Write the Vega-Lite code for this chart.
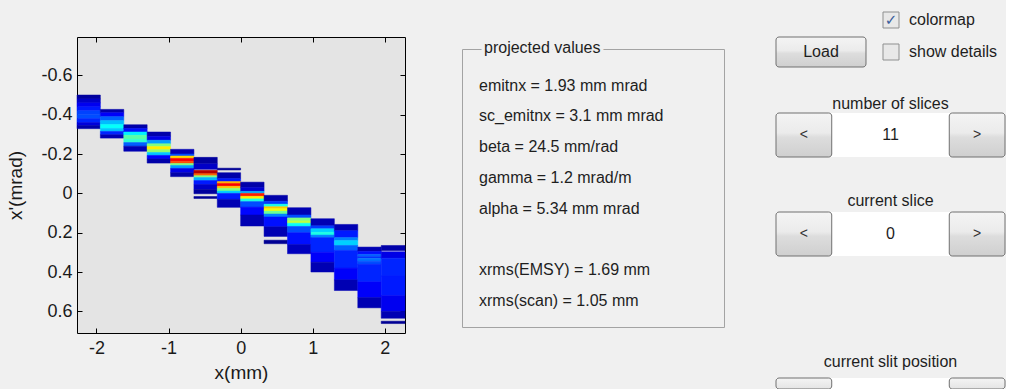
{
  "$schema": "https://vega.github.io/schema/vega-lite/v6.json",
  "background": "#f0f0f0",
  "padding": {"left": 6, "top": 0, "right": 0, "bottom": 0},
  "config": {
    "font": "Liberation Sans",
    "view": {"stroke": null},
    "title": {"fontWeight": "normal", "color": "#1e1e1e"}
  },
  "spacing": 55,
  "hconcat": [
    {
      "spacing": 0,
      "vconcat": [
        {"width": 1, "height": 36, "data": {"values": []}, "mark": "rect", "encoding": {}},
        {
          "width": 328,
          "height": 296,
          "view": {"fill": "#e4e4e4", "stroke": "#000000", "strokeWidth": 1},
          "data": {
            "values": [
              {"x0": -2.27, "x1": -1.946, "y0": -0.5, "y1": -0.48, "v": 0.03},
              {"x0": -2.27, "x1": -1.946, "y0": -0.48, "y1": -0.46, "v": 0.07},
              {"x0": -2.27, "x1": -1.946, "y0": -0.46, "y1": -0.44, "v": 0.11},
              {"x0": -2.27, "x1": -1.946, "y0": -0.44, "y1": -0.42, "v": 0.15},
              {"x0": -2.27, "x1": -1.946, "y0": -0.42, "y1": -0.4, "v": 0.19},
              {"x0": -2.27, "x1": -1.946, "y0": -0.4, "y1": -0.38, "v": 0.2},
              {"x0": -2.27, "x1": -1.946, "y0": -0.38, "y1": -0.36, "v": 0.16},
              {"x0": -2.27, "x1": -1.946, "y0": -0.36, "y1": -0.345, "v": 0.09},
              {"x0": -2.27, "x1": -1.946, "y0": -0.345, "y1": -0.329, "v": 0.04},

              {"x0": -1.946, "x1": -1.621, "y0": -0.427, "y1": -0.41, "v": 0.04},
              {"x0": -1.946, "x1": -1.621, "y0": -0.41, "y1": -0.39, "v": 0.12},
              {"x0": -1.946, "x1": -1.621, "y0": -0.39, "y1": -0.37, "v": 0.22},
              {"x0": -1.946, "x1": -1.621, "y0": -0.37, "y1": -0.35, "v": 0.31},
              {"x0": -1.946, "x1": -1.621, "y0": -0.35, "y1": -0.33, "v": 0.38},
              {"x0": -1.946, "x1": -1.621, "y0": -0.33, "y1": -0.315, "v": 0.32},
              {"x0": -1.946, "x1": -1.621, "y0": -0.315, "y1": -0.298, "v": 0.16},
              {"x0": -1.946, "x1": -1.621, "y0": -0.298, "y1": -0.281, "v": 0.05},

              {"x0": -1.621, "x1": -1.297, "y0": -0.349, "y1": -0.33, "v": 0.04},
              {"x0": -1.621, "x1": -1.297, "y0": -0.33, "y1": -0.312, "v": 0.14},
              {"x0": -1.621, "x1": -1.297, "y0": -0.312, "y1": -0.295, "v": 0.36},
              {"x0": -1.621, "x1": -1.297, "y0": -0.295, "y1": -0.275, "v": 0.46},
              {"x0": -1.621, "x1": -1.297, "y0": -0.275, "y1": -0.258, "v": 0.42},
              {"x0": -1.621, "x1": -1.297, "y0": -0.258, "y1": -0.24, "v": 0.22},
              {"x0": -1.621, "x1": -1.297, "y0": -0.24, "y1": -0.214, "v": 0.05},

              {"x0": -1.297, "x1": -0.972, "y0": -0.312, "y1": -0.29, "v": 0.04},
              {"x0": -1.297, "x1": -0.972, "y0": -0.29, "y1": -0.27, "v": 0.1},
              {"x0": -1.297, "x1": -0.972, "y0": -0.27, "y1": -0.252, "v": 0.28},
              {"x0": -1.297, "x1": -0.972, "y0": -0.252, "y1": -0.238, "v": 0.5},
              {"x0": -1.297, "x1": -0.972, "y0": -0.238, "y1": -0.222, "v": 0.64},
              {"x0": -1.297, "x1": -0.972, "y0": -0.222, "y1": -0.208, "v": 0.52},
              {"x0": -1.297, "x1": -0.972, "y0": -0.208, "y1": -0.193, "v": 0.32},
              {"x0": -1.297, "x1": -0.972, "y0": -0.193, "y1": -0.175, "v": 0.12},
              {"x0": -1.297, "x1": -0.972, "y0": -0.175, "y1": -0.154, "v": 0.04},

              {"x0": -0.972, "x1": -0.648, "y0": -0.224, "y1": -0.2, "v": 0.05},
              {"x0": -0.972, "x1": -0.648, "y0": -0.2, "y1": -0.19, "v": 0.2},
              {"x0": -0.972, "x1": -0.648, "y0": -0.19, "y1": -0.178, "v": 0.66},
              {"x0": -0.972, "x1": -0.648, "y0": -0.178, "y1": -0.163, "v": 0.88},
              {"x0": -0.972, "x1": -0.648, "y0": -0.163, "y1": -0.152, "v": 0.8},
              {"x0": -0.972, "x1": -0.648, "y0": -0.152, "y1": -0.142, "v": 0.5},
              {"x0": -0.972, "x1": -0.648, "y0": -0.142, "y1": -0.127, "v": 0.28},
              {"x0": -0.972, "x1": -0.648, "y0": -0.127, "y1": -0.105, "v": 0.1},
              {"x0": -0.972, "x1": -0.648, "y0": -0.105, "y1": -0.085, "v": 0.04},

              {"x0": -0.648, "x1": -0.324, "y0": -0.183, "y1": -0.15, "v": 0.03},
              {"x0": -0.648, "x1": -0.324, "y0": -0.15, "y1": -0.122, "v": 0.07},
              {"x0": -0.648, "x1": -0.324, "y0": -0.117, "y1": -0.1, "v": 0.95},
              {"x0": -0.648, "x1": -0.324, "y0": -0.1, "y1": -0.09, "v": 0.78},
              {"x0": -0.648, "x1": -0.324, "y0": -0.09, "y1": -0.08, "v": 0.5},
              {"x0": -0.648, "x1": -0.324, "y0": -0.08, "y1": -0.065, "v": 0.3},
              {"x0": -0.648, "x1": -0.324, "y0": -0.065, "y1": -0.045, "v": 0.15},
              {"x0": -0.648, "x1": -0.324, "y0": -0.045, "y1": -0.02, "v": 0.07},
              {"x0": -0.648, "x1": -0.324, "y0": -0.02, "y1": 0.002, "v": 0.03},
              {"x0": -0.648, "x1": -0.324, "y0": 0.016, "y1": 0.026, "v": 0.02},

              {"x0": -0.324, "x1": 0, "y0": -0.128, "y1": -0.119, "v": 0.02},
              {"x0": -0.324, "x1": 0, "y0": -0.105, "y1": -0.075, "v": 0.04},
              {"x0": -0.324, "x1": 0, "y0": -0.075, "y1": -0.06, "v": 0.15},
              {"x0": -0.324, "x1": 0, "y0": -0.06, "y1": -0.05, "v": 0.7},
              {"x0": -0.324, "x1": 0, "y0": -0.05, "y1": -0.036, "v": 0.88},
              {"x0": -0.324, "x1": 0, "y0": -0.036, "y1": -0.025, "v": 0.68},
              {"x0": -0.324, "x1": 0, "y0": -0.025, "y1": -0.012, "v": 0.5},
              {"x0": -0.324, "x1": 0, "y0": -0.012, "y1": 0, "v": 0.33},
              {"x0": -0.324, "x1": 0, "y0": 0, "y1": 0.03, "v": 0.15},
              {"x0": -0.324, "x1": 0, "y0": 0.03, "y1": 0.071, "v": 0.05},

              {"x0": 0, "x1": 0.325, "y0": -0.057, "y1": -0.03, "v": 0.04},
              {"x0": 0, "x1": 0.325, "y0": -0.03, "y1": -0.01, "v": 0.08},
              {"x0": 0, "x1": 0.325, "y0": -0.01, "y1": 0, "v": 0.3},
              {"x0": 0, "x1": 0.325, "y0": 0, "y1": 0.015, "v": 0.85},
              {"x0": 0, "x1": 0.325, "y0": 0.015, "y1": 0.028, "v": 0.64},
              {"x0": 0, "x1": 0.325, "y0": 0.028, "y1": 0.042, "v": 0.4},
              {"x0": 0, "x1": 0.325, "y0": 0.042, "y1": 0.07, "v": 0.2},
              {"x0": 0, "x1": 0.325, "y0": 0.07, "y1": 0.11, "v": 0.13},
              {"x0": 0, "x1": 0.325, "y0": 0.11, "y1": 0.166, "v": 0.05},

              {"x0": 0.325, "x1": 0.65, "y0": 0.01, "y1": 0.04, "v": 0.04},
              {"x0": 0.325, "x1": 0.65, "y0": 0.04, "y1": 0.055, "v": 0.18},
              {"x0": 0.325, "x1": 0.65, "y0": 0.055, "y1": 0.068, "v": 0.4},
              {"x0": 0.325, "x1": 0.65, "y0": 0.068, "y1": 0.078, "v": 0.68},
              {"x0": 0.325, "x1": 0.65, "y0": 0.078, "y1": 0.09, "v": 0.62},
              {"x0": 0.325, "x1": 0.65, "y0": 0.09, "y1": 0.105, "v": 0.48},
              {"x0": 0.325, "x1": 0.65, "y0": 0.105, "y1": 0.12, "v": 0.25},
              {"x0": 0.325, "x1": 0.65, "y0": 0.12, "y1": 0.17, "v": 0.14},
              {"x0": 0.325, "x1": 0.65, "y0": 0.17, "y1": 0.219, "v": 0.05},
              {"x0": 0.325, "x1": 0.65, "y0": 0.238, "y1": 0.256, "v": 0.02},

              {"x0": 0.65, "x1": 0.975, "y0": 0.073, "y1": 0.11, "v": 0.05},
              {"x0": 0.65, "x1": 0.975, "y0": 0.11, "y1": 0.125, "v": 0.2},
              {"x0": 0.65, "x1": 0.975, "y0": 0.125, "y1": 0.14, "v": 0.5},
              {"x0": 0.65, "x1": 0.975, "y0": 0.14, "y1": 0.152, "v": 0.56},
              {"x0": 0.65, "x1": 0.975, "y0": 0.152, "y1": 0.168, "v": 0.38},
              {"x0": 0.65, "x1": 0.975, "y0": 0.168, "y1": 0.2, "v": 0.2},
              {"x0": 0.65, "x1": 0.975, "y0": 0.2, "y1": 0.26, "v": 0.14},
              {"x0": 0.65, "x1": 0.975, "y0": 0.26, "y1": 0.307, "v": 0.06},

              {"x0": 0.975, "x1": 1.3, "y0": 0.129, "y1": 0.165, "v": 0.05},
              {"x0": 0.975, "x1": 1.3, "y0": 0.165, "y1": 0.18, "v": 0.18},
              {"x0": 0.975, "x1": 1.3, "y0": 0.18, "y1": 0.198, "v": 0.33},
              {"x0": 0.975, "x1": 1.3, "y0": 0.198, "y1": 0.212, "v": 0.4},
              {"x0": 0.975, "x1": 1.3, "y0": 0.212, "y1": 0.225, "v": 0.25},
              {"x0": 0.975, "x1": 1.3, "y0": 0.225, "y1": 0.3, "v": 0.16},
              {"x0": 0.975, "x1": 1.3, "y0": 0.3, "y1": 0.35, "v": 0.12},
              {"x0": 0.975, "x1": 1.3, "y0": 0.35, "y1": 0.4, "v": 0.05},

              {"x0": 1.3, "x1": 1.625, "y0": 0.158, "y1": 0.19, "v": 0.05},
              {"x0": 1.3, "x1": 1.625, "y0": 0.19, "y1": 0.225, "v": 0.15},
              {"x0": 1.3, "x1": 1.625, "y0": 0.225, "y1": 0.24, "v": 0.25},
              {"x0": 1.3, "x1": 1.625, "y0": 0.24, "y1": 0.265, "v": 0.33},
              {"x0": 1.3, "x1": 1.625, "y0": 0.265, "y1": 0.29, "v": 0.22},
              {"x0": 1.3, "x1": 1.625, "y0": 0.29, "y1": 0.38, "v": 0.16},
              {"x0": 1.3, "x1": 1.625, "y0": 0.38, "y1": 0.44, "v": 0.12},
              {"x0": 1.3, "x1": 1.625, "y0": 0.44, "y1": 0.494, "v": 0.05},

              {"x0": 1.625, "x1": 1.95, "y0": 0.273, "y1": 0.295, "v": 0.05},
              {"x0": 1.625, "x1": 1.95, "y0": 0.295, "y1": 0.31, "v": 0.14},
              {"x0": 1.625, "x1": 1.95, "y0": 0.31, "y1": 0.322, "v": 0.22},
              {"x0": 1.625, "x1": 1.95, "y0": 0.322, "y1": 0.33, "v": 0.17},
              {"x0": 1.625, "x1": 1.95, "y0": 0.33, "y1": 0.345, "v": 0.24},
              {"x0": 1.625, "x1": 1.95, "y0": 0.345, "y1": 0.36, "v": 0.2},
              {"x0": 1.625, "x1": 1.95, "y0": 0.36, "y1": 0.45, "v": 0.16},
              {"x0": 1.625, "x1": 1.95, "y0": 0.45, "y1": 0.53, "v": 0.12},
              {"x0": 1.625, "x1": 1.95, "y0": 0.53, "y1": 0.582, "v": 0.05},

              {"x0": 1.95, "x1": 2.28, "y0": 0.265, "y1": 0.291, "v": 0.04},
              {"x0": 1.95, "x1": 2.28, "y0": 0.297, "y1": 0.33, "v": 0.1},
              {"x0": 1.95, "x1": 2.28, "y0": 0.33, "y1": 0.42, "v": 0.16},
              {"x0": 1.95, "x1": 2.28, "y0": 0.42, "y1": 0.52, "v": 0.15},
              {"x0": 1.95, "x1": 2.28, "y0": 0.52, "y1": 0.6, "v": 0.11},
              {"x0": 1.95, "x1": 2.28, "y0": 0.6, "y1": 0.635, "v": 0.05},
              {"x0": 1.95, "x1": 2.28, "y0": 0.65, "y1": 0.662, "v": 0.02}
            ]
          },
          "layer": [
            {
              "mark": {"type": "rect", "strokeWidth": 0.5},
              "encoding": {
                "x": {
                  "field": "x0", "type": "quantitative",
                  "scale": {"domain": [-2.27, 2.28], "nice": false, "zero": false},
                  "axis": {
                    "title": "x(mm)", "values": [-2, -1, 0, 1, 2],
                    "labelExpr": "datum.value < 0 ? '-' + format(-datum.value, 'd') : format(datum.value, 'd')",
                    "domain": false, "grid": false, "tickSize": -5, "tickColor": "#000000",
                    "labelFontSize": 18, "labelColor": "#1a1a1a", "labelPadding": 11,
                    "titleFontSize": 19, "titleFontWeight": "normal", "titleColor": "#1a1a1a", "titlePadding": 6
                  }
                },
                "x2": {"field": "x1"},
                "y": {
                  "field": "y0", "type": "quantitative",
                  "scale": {"domain": [-0.795, 0.71], "reverse": true, "nice": false, "zero": false},
                  "axis": {
                    "title": "x'(mrad)", "values": [-0.6, -0.4, -0.2, 0, 0.2, 0.4, 0.6],
                    "labelExpr": "datum.value == 0 ? '0' : (datum.value < 0 ? '-' : '') + format(abs(datum.value), '.1f')",
                    "domain": false, "grid": false, "tickSize": -5, "tickColor": "#000000",
                    "labelFontSize": 18, "labelColor": "#1a1a1a", "labelPadding": 10,
                    "titleFontSize": 19, "titleFontWeight": "normal", "titleColor": "#1a1a1a", "titlePadding": 15
                  }
                },
                "y2": {"field": "y1"},
                "fill": {
                  "field": "v", "type": "quantitative", "legend": null,
                  "scale": {"domain": [0, 0.125, 0.375, 0.625, 0.875, 1], "range": ["#000080", "#0000ff", "#00ffff", "#ffff00", "#ff0000", "#800000"], "interpolate": "rgb"}
                },
                "stroke": {
                  "field": "v", "type": "quantitative", "legend": null,
                  "scale": {"domain": [0, 0.125, 0.375, 0.625, 0.875, 1], "range": ["#000080", "#0000ff", "#00ffff", "#ffff00", "#ff0000", "#800000"], "interpolate": "rgb"}
                }
              }
            },
            {
              "transform": [{"filter": "datum.v > 0.9"}],
              "mark": {"type": "rect", "opacity": 0},
              "encoding": {
                "x": {
                  "field": "x0", "type": "quantitative",
                  "scale": {"domain": [-2.27, 2.28], "nice": false, "zero": false},
                  "axis": {"orient": "top", "values": [-2, -1, 0, 1, 2], "labels": false, "title": null, "domain": false, "grid": false, "tickSize": -5, "tickColor": "#000000"}
                },
                "x2": {"field": "x1"},
                "y": {
                  "field": "y0", "type": "quantitative",
                  "scale": {"domain": [-0.795, 0.71], "reverse": true, "nice": false, "zero": false},
                  "axis": {"orient": "right", "values": [-0.6, -0.4, -0.2, 0, 0.2, 0.4, 0.6], "labels": false, "title": null, "domain": false, "grid": false, "tickSize": -5, "tickColor": "#000000"}
                },
                "y2": {"field": "y1"}
              }
            }
          ],
          "resolve": {"axis": {"x": "independent", "y": "independent"}}
        }
      ]
    },
    {
      "spacing": 50,
      "hconcat": [
        {
          "spacing": 0,
          "vconcat": [
            {"width": 1, "height": 39, "data": {"values": []}, "mark": "rect", "encoding": {}},
            {
              "width": 262,
              "height": 278,
              "view": {"stroke": "#a3a3a3", "fill": null},
              "layer": [
                {
                  "data": {"values": [{"heading": "projected values"}]},
                  "mark": {"type": "text", "align": "left", "baseline": "middle", "fontSize": 16, "fill": "#f0f0f0", "stroke": "#f0f0f0", "strokeWidth": 7, "strokeJoin": "round"},
                  "encoding": {"text": {"field": "heading"}, "x": {"value": 22}, "y": {"value": -1}}
                },
                {
                  "data": {"values": [{"heading": "projected values"}]},
                  "mark": {"type": "text", "align": "left", "baseline": "middle", "fontSize": 16, "color": "#1e1e1e"},
                  "encoding": {"text": {"field": "heading"}, "x": {"value": 22}, "y": {"value": -1}}
                },
                {
                  "data": {
                    "values": [
                      {"line": 0, "text": "emitnx = 1.93 mm mrad"},
                      {"line": 1, "text": "sc_emitnx = 3.1 mm mrad"},
                      {"line": 2, "text": "beta = 24.5 mm/rad"},
                      {"line": 3, "text": "gamma = 1.2 mrad/m"},
                      {"line": 4, "text": "alpha = 5.34 mm mrad"},
                      {"line": 6, "text": "xrms(EMSY) = 1.69 mm"},
                      {"line": 7, "text": "xrms(scan) = 1.05 mm"}
                    ]
                  },
                  "mark": {"type": "text", "align": "left", "baseline": "middle", "fontSize": 16, "color": "#1e1e1e"},
                  "encoding": {
                    "text": {"field": "text"},
                    "x": {"value": 17},
                    "y": {"field": "line", "type": "quantitative", "scale": {"domain": [-1.19, 7.85], "reverse": true, "nice": false, "zero": false}, "axis": null}
                  }
                }
              ]
            }
          ]
        },
        {
          "spacing": 96,
          "vconcat": [
            {
              "spacing": 34,
              "vconcat": [
                {
                  "spacing": 23,
                  "vconcat": [
                    {
                      "width": 196,
                      "height": 72,
                      "data": {
                        "values": [
                          {"item": "Load", "kind": "button", "col": "button", "row": "show details", "checked": false},
                          {"item": "colormap", "kind": "checkbox", "col": "option", "row": "colormap", "checked": true},
                          {"item": "show details", "kind": "checkbox", "col": "option", "row": "show details", "checked": false}
                        ]
                      },
                      "encoding": {
                        "x": {"field": "col", "type": "nominal", "scale": {"domain": ["button", "option"], "paddingInner": 0.151, "paddingOuter": 0}, "axis": null},
                        "y": {"field": "row", "type": "nominal", "scale": {"domain": ["colormap", "show details"], "paddingInner": 0.0625, "paddingOuter": 0.15625}, "axis": null}
                      },
                      "layer": [
                        {
                          "transform": [{"filter": "datum.kind == 'button'"}],
                          "mark": {
                            "type": "rect", "cornerRadius": 3, "stroke": "#707070", "strokeWidth": 1,
                            "fill": {"gradient": "linear", "x1": 0, "y1": 0, "x2": 0, "y2": 1, "stops": [{"offset": 0, "color": "#f4f4f4"}, {"offset": 0.45, "color": "#ebebeb"}, {"offset": 0.55, "color": "#dddddd"}, {"offset": 1, "color": "#cfcfcf"}]}
                          }
                        },
                        {
                          "transform": [{"filter": "datum.kind == 'button'"}],
                          "mark": {"type": "text", "fontSize": 16, "color": "#1e1e1e"},
                          "encoding": {"text": {"field": "item"}}
                        },
                        {
                          "transform": [{"filter": "datum.kind == 'checkbox'"}],
                          "mark": {"type": "square", "size": 256, "filled": true, "fill": "#e8e8e8", "stroke": "#8e8f8f", "strokeWidth": 1, "opacity": 1},
                          "encoding": {
                            "x": {"field": "col", "type": "nominal", "bandPosition": 0.1, "scale": {"domain": ["button", "option"], "paddingInner": 0.151, "paddingOuter": 0}, "axis": null}
                          }
                        },
                        {
                          "transform": [{"filter": "datum.checked"}],
                          "mark": {"type": "text", "font": "DejaVu Sans", "fontSize": 15, "fontWeight": "bold", "color": "#3b5e9b"},
                          "encoding": {
                            "text": {"value": "✓"},
                            "x": {"field": "col", "type": "nominal", "bandPosition": 0.1, "scale": {"domain": ["button", "option"], "paddingInner": 0.151, "paddingOuter": 0}, "axis": null}
                          }
                        },
                        {
                          "transform": [{"filter": "datum.kind == 'checkbox'"}],
                          "mark": {"type": "text", "align": "left", "fontSize": 16, "color": "#1e1e1e"},
                          "encoding": {
                            "text": {"field": "item"},
                            "x": {"field": "col", "type": "nominal", "bandPosition": 0.3, "scale": {"domain": ["button", "option"], "paddingInner": 0.151, "paddingOuter": 0}, "axis": null}
                          }
                        }
                      ]
                    },
                    {
                      "width": 229,
                      "height": 44,
                      "title": {"text": "number of slices", "fontSize": 16, "offset": 1, "anchor": "middle"},
                      "layer": [
                        {"data": {"values": [{"value": "11"}]}, "mark": {"type": "rect", "fill": "#ffffff"}, "encoding": {}},
                        {"data": {"values": [{"value": "11"}]}, "mark": {"type": "text", "fontSize": 16, "color": "#1e1e1e"}, "encoding": {"text": {"field": "value"}}},
                        {
                          "data": {"values": [{"btn": "<"}, {"btn": ">"}]},
                          "encoding": {"x": {"field": "btn", "type": "nominal", "scale": {"domain": ["<", "field-a", "field-b", ">"], "paddingInner": 0.035, "paddingOuter": 0}, "axis": null}},
                          "layer": [
                            {"mark": {"type": "rect", "cornerRadius": 3, "stroke": "#707070", "strokeWidth": 1, "fill": {"gradient": "linear", "x1": 0, "y1": 0, "x2": 0, "y2": 1, "stops": [{"offset": 0, "color": "#f4f4f4"}, {"offset": 0.45, "color": "#ebebeb"}, {"offset": 0.55, "color": "#dddddd"}, {"offset": 1, "color": "#cfcfcf"}]}}},
                            {"mark": {"type": "text", "fontSize": 14, "color": "#333333"}, "encoding": {"text": {"field": "btn"}}}
                          ]
                        }
                      ]
                    }
                  ]
                },
                {
                  "width": 229,
                  "height": 44,
                  "title": {"text": "current slice", "fontSize": 16, "offset": 3, "anchor": "middle"},
                  "layer": [
                    {"data": {"values": [{"value": "0"}]}, "mark": {"type": "rect", "fill": "#ffffff"}, "encoding": {}},
                    {"data": {"values": [{"value": "0"}]}, "mark": {"type": "text", "fontSize": 16, "color": "#1e1e1e"}, "encoding": {"text": {"field": "value"}}},
                    {
                      "data": {"values": [{"btn": "<"}, {"btn": ">"}]},
                      "encoding": {"x": {"field": "btn", "type": "nominal", "scale": {"domain": ["<", "field-a", "field-b", ">"], "paddingInner": 0.035, "paddingOuter": 0}, "axis": null}},
                      "layer": [
                        {"mark": {"type": "rect", "cornerRadius": 3, "stroke": "#707070", "strokeWidth": 1, "fill": {"gradient": "linear", "x1": 0, "y1": 0, "x2": 0, "y2": 1, "stops": [{"offset": 0, "color": "#f4f4f4"}, {"offset": 0.45, "color": "#ebebeb"}, {"offset": 0.55, "color": "#dddddd"}, {"offset": 1, "color": "#cfcfcf"}]}}},
                        {"mark": {"type": "text", "fontSize": 14, "color": "#333333"}, "encoding": {"text": {"field": "btn"}}}
                      ]
                    }
                  ]
                }
              ]
            },
            {
              "width": 229,
              "height": 11,
              "title": {"text": "current slit position", "fontSize": 16, "offset": 8, "anchor": "middle"},
              "layer": [
                {"data": {"values": [{"value": ""}]}, "mark": {"type": "rect", "fill": "#ffffff"}, "encoding": {}},
                {
                  "data": {"values": [{"btn": "<"}, {"btn": ">"}]},
                  "encoding": {"x": {"field": "btn", "type": "nominal", "scale": {"domain": ["<", "field-a", "field-b", ">"], "paddingInner": 0.035, "paddingOuter": 0}, "axis": null}},
                  "layer": [
                    {"mark": {"type": "rect", "cornerRadius": 3, "stroke": "#707070", "strokeWidth": 1, "fill": {"gradient": "linear", "x1": 0, "y1": 0, "x2": 0, "y2": 1, "stops": [{"offset": 0, "color": "#f4f4f4"}, {"offset": 1, "color": "#e4e4e4"}]}}}
                  ]
                }
              ]
            }
          ]
        }
      ]
    }
  ]
}
